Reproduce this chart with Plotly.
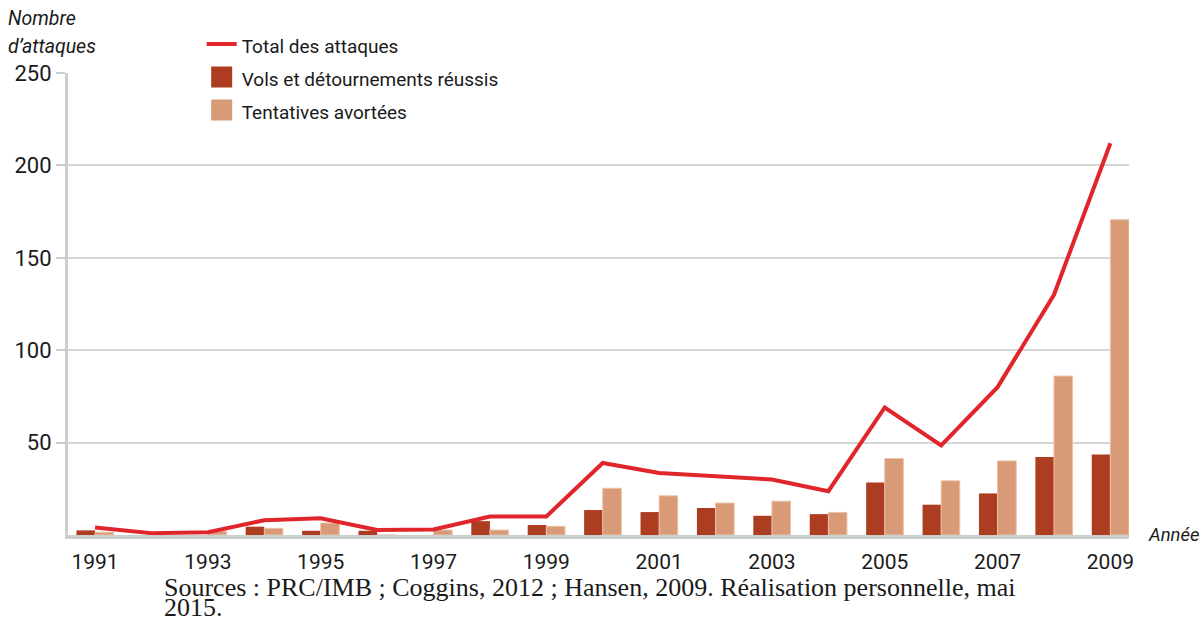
import plotly.graph_objects as go

years = list(range(1991, 2010))
total_attaques = [4, 1, 1.5, 8, 9, 2.7, 3, 10, 10, 39, 33.6, 31.8, 30, 23.7, 69, 48.5, 80, 130, 212]
vols_reussis = [2.5, 0, 0, 4.5, 2.3, 2.3, 0, 7.5, 5.4, 13.5, 12.4, 14.6, 10.4, 11.3, 28.4, 16.4, 22.5, 42.2, 43.5]
tentatives_avortees = [1.5, 0, 2, 3.6, 6.5, 0, 2.7, 2.7, 4.7, 25.3, 21.2, 17.3, 18.3, 12.2, 41.4, 29.3, 40.1, 86, 170.6]
x_tick_years = [1991, 1993, 1995, 1997, 1999, 2001, 2003, 2005, 2007, 2009]
y_tick_values = [50, 100, 150, 200, 250]

SANS = "Roboto, 'Open Sans', sans-serif"
SERIF = "'Liberation Serif', 'Times New Roman', serif"
AXIS_GREY = "#c9cfcd"
RED = "#e0262a"
DARK = "#ad3d20"
LIGHT = "#d99a77"
TXT = "#1a1a1a"


def lg(label):
    return "<span style='font-size:19px'>" + label + "</span>"


fig = go.Figure()
fig.add_trace(go.Scatter(
    x=years, y=total_attaques, mode="lines", name=lg("Total des attaques"),
    line=dict(color=RED, width=4),
))
fig.add_trace(go.Bar(
    x=years, y=vols_reussis, name="Vols et détournements réussis", showlegend=False,
    marker=dict(color=DARK, line=dict(width=0)), width=0.33, offset=-0.33,
))
fig.add_trace(go.Bar(
    x=years, y=tentatives_avortees, name="Tentatives avortées", showlegend=False,
    marker=dict(color=LIGHT, line=dict(color="#ebc2a8", width=1)), width=0.33, offset=0,
))
# legend entries (square swatches) for the two bar series
fig.add_trace(go.Scatter(
    x=[None], y=[None], mode="markers", name=lg("Vols et détournements réussis"),
    marker=dict(symbol="square", size=16, color=DARK, line=dict(color=DARK, width=5)),
    hoverinfo="skip",
))
fig.add_trace(go.Scatter(
    x=[None], y=[None], mode="markers", name=lg("Tentatives avortées"),
    marker=dict(symbol="square", size=16, color=LIGHT, line=dict(color=LIGHT, width=5)),
    hoverinfo="skip",
))

fig.update_layout(
    width=1204, height=622,
    margin=dict(l=68, r=75, t=73, b=87),
    plot_bgcolor="white", paper_bgcolor="white",
    barmode="overlay",
    font=dict(family=SANS, color=TXT, size=20),
    showlegend=True,
    legend=dict(
        x=0.126, y=1.109, xanchor="left", yanchor="top",
        font=dict(family=SANS, size=23, color=TXT),
        bgcolor="rgba(0,0,0,0)", itemwidth=30, tracegroupgap=0,
        itemsizing="trace",
    ),
    xaxis=dict(
        range=[1990.52, 2009.33], tickvals=x_tick_years,
        showline=True, linecolor=AXIS_GREY, linewidth=4,
        ticks="", showgrid=False, zeroline=False,
        tickfont=dict(family=SANS, size=21, color=TXT),
        ticklabelstandoff=5,
    ),
    yaxis=dict(
        range=[0, 250], tickvals=y_tick_values,
        showline=True, linecolor=AXIS_GREY, linewidth=3,
        ticks="outside", ticklen=9, tickwidth=2, tickcolor=AXIS_GREY,
        showgrid=True, gridcolor="#d6d6d6", gridwidth=1.5, zeroline=False,
        tickfont=dict(family=SANS, size=22, color=TXT),
    ),
    annotations=[
        dict(text="<i>Nombre</i>", xref="paper", yref="paper", x=-0.058, y=1.117,
             xanchor="left", yanchor="middle", showarrow=False,
             font=dict(family=SANS, size=19.5, color=TXT)),
        dict(text="<i>d’attaques</i>", xref="paper", yref="paper", x=-0.058, y=1.058,
             xanchor="left", yanchor="middle", showarrow=False,
             font=dict(family=SANS, size=19.5, color=TXT)),
        dict(text="<i>Année</i>", xref="paper", yref="paper", x=1.016, y=0.0,
             xanchor="left", yanchor="middle", showarrow=False,
             font=dict(family=SANS, size=18.5, color=TXT)),
        dict(text="Sources : PRC/IMB ; Coggins, 2012 ; Hansen, 2009. Réalisation personnelle, mai",
             xref="paper", yref="paper", x=0.0886, y=-0.113,
             xanchor="left", yanchor="middle", showarrow=False,
             font=dict(family=SERIF, size=26, color=TXT)),
        dict(text="2015.", xref="paper", yref="paper", x=0.0886, y=-0.1577,
             xanchor="left", yanchor="middle", showarrow=False,
             font=dict(family=SERIF, size=26, color=TXT)),
    ],
)

fig.write_html("out.html", config={"displayModeBar": False},
               post_script="document.body.style.margin='0';")
